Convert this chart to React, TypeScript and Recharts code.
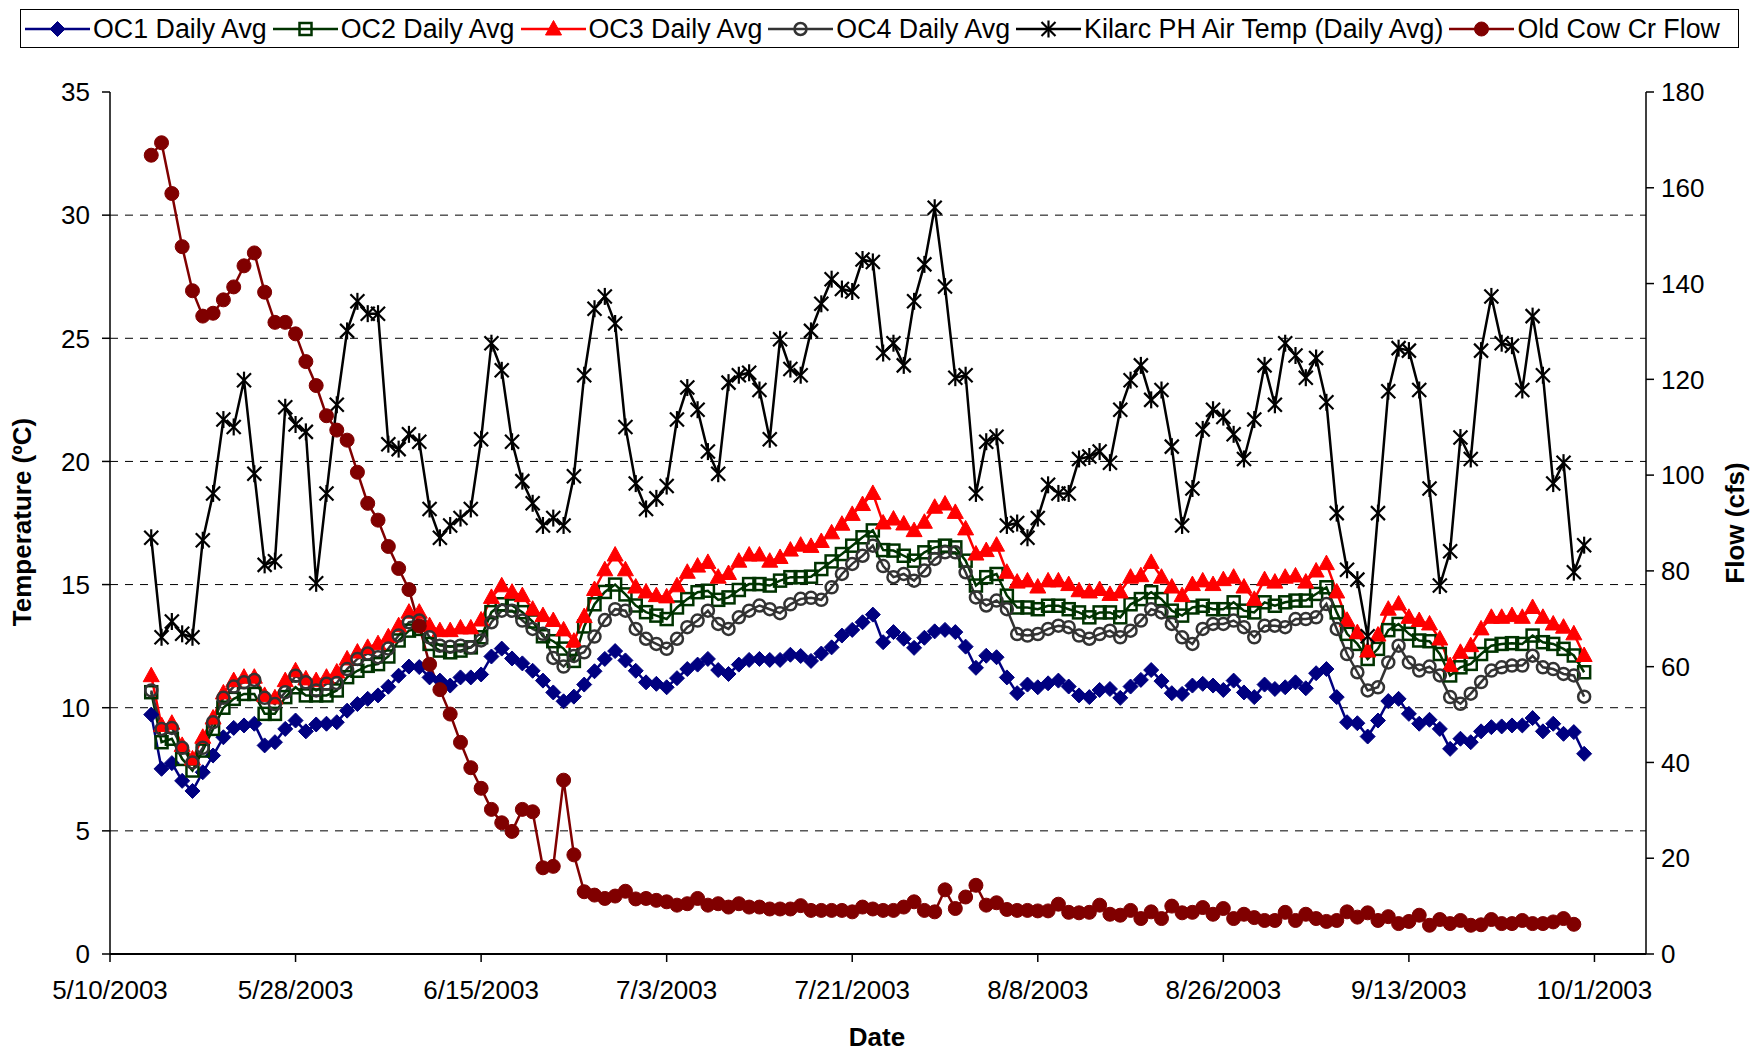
import React from 'react';
import { LineChart, Line, XAxis, YAxis, ReferenceLine } from 'recharts';

const FONT = '"Liberation Sans", Arial, Helvetica, sans-serif';
const START_MS = Date.UTC(2003, 4, 10); // 5/10/2003 = day 0 of the axis
const FIRST_DAY = 4; // first observation 5/14/2003

const xTicks = [0, 18, 36, 54, 72, 90, 108, 126, 144];
const tempTicks = [0, 5, 10, 15, 20, 25, 30, 35];
const flowTicks = [0, 20, 40, 60, 80, 100, 120, 140, 160, 180];
const gridValues = [5, 10, 15, 20, 25, 30];

const oc1 = [
  9.72, 7.52, 7.75, 7.03, 6.62, 7.38, 8.06, 8.8, 9.18, 9.28, 9.35, 8.47, 8.6, 9.14, 9.48, 9.04, 9.32, 9.35, 9.41, 9.88, 10.15, 10.36, 10.5, 10.85,
  11.3, 11.67, 11.65, 11.23, 11.1, 10.9, 11.23, 11.23, 11.35, 12.08, 12.4, 12.0, 11.8, 11.5, 11.1, 10.62, 10.26, 10.45, 10.94, 11.48, 11.98, 12.3, 11.92, 11.5,
  11.03, 10.97, 10.83, 11.2, 11.57, 11.75, 11.98, 11.53, 11.37, 11.75, 11.94, 11.98, 11.94, 11.94, 12.15, 12.1, 11.9, 12.2, 12.45, 12.93, 13.16, 13.47, 13.78, 12.66,
  13.07, 12.8, 12.43, 12.84, 13.1, 13.16, 13.07, 12.48, 11.62, 12.11, 12.05, 11.23, 10.59, 10.94, 10.83, 10.99, 11.1, 10.86, 10.5, 10.43, 10.72, 10.76, 10.4, 10.86,
  11.13, 11.53, 11.08, 10.59, 10.56, 10.9, 10.97, 10.9, 10.72, 11.1, 10.62, 10.43, 10.94, 10.76, 10.83, 11.03, 10.79, 11.4, 11.57, 10.43, 9.41, 9.37, 8.83, 9.48,
  10.27, 10.36, 9.75, 9.35, 9.51, 9.14, 8.33, 8.74, 8.6, 9.04, 9.21, 9.24, 9.28, 9.28, 9.58, 9.04, 9.35, 8.94, 9.01, 8.13,
];

const oc2 = [
  10.63, 8.6, 8.74, 7.92, 7.45, 8.26, 9.14, 10.0, 10.36, 10.56, 10.56, 9.75, 9.75, 10.43, 10.83, 10.5, 10.5, 10.5, 10.7, 11.24, 11.5, 11.7, 11.77, 12.08,
  12.73, 13.13, 13.2, 12.59, 12.32, 12.25, 12.32, 12.45, 12.86, 13.88, 14.2, 14.15, 13.88, 13.5, 12.9, 12.7, 12.4, 11.9, 13.3, 14.2, 14.7, 15.0, 14.6, 14.15,
  13.88, 13.74, 13.6, 14.07, 14.41, 14.69, 14.75, 14.38, 14.48, 14.78, 15.02, 15.02, 14.96, 15.16, 15.3, 15.3, 15.32, 15.63, 15.94, 16.24, 16.58, 16.92, 17.2, 16.4,
  16.38, 16.17, 15.97, 16.31, 16.51, 16.58, 16.51, 15.97, 14.96, 15.3, 15.43, 14.55, 14.07, 14.07, 14.0, 14.14, 14.14, 14.0, 13.87, 13.67, 13.87, 13.87, 13.67, 14.2,
  14.41, 14.69, 14.41, 13.94, 13.74, 14.07, 14.14, 14.0, 14.0, 14.28, 13.94, 13.87, 14.28, 14.14, 14.28, 14.35, 14.35, 14.62, 14.89, 13.87, 13.0, 12.59, 11.98, 12.39,
  13.15, 13.4, 13.0, 12.73, 12.7, 12.18, 11.31, 11.64, 11.78, 12.18, 12.52, 12.59, 12.62, 12.59, 12.93, 12.66, 12.59, 12.39, 12.12, 11.44,
];

const oc3 = [
  11.3, 9.28, 9.37, 8.47, 7.92, 8.8, 9.58, 10.6, 11.1, 11.24, 11.24, 10.5, 10.4, 11.1, 11.5, 11.17, 11.1, 11.24, 11.45, 11.98, 12.26, 12.45, 12.6, 12.88,
  13.33, 13.88, 13.88, 13.33, 13.13, 13.13, 13.24, 13.24, 13.56, 14.48, 14.95, 14.69, 14.55, 14.0, 13.74, 13.54, 13.16, 12.7, 13.7, 14.8, 15.6, 16.2, 15.6, 14.9,
  14.7, 14.55, 14.5, 14.95, 15.5, 15.75, 15.9, 15.3, 15.45, 15.95, 16.2, 16.2, 15.95, 16.1, 16.4, 16.6, 16.55, 16.75, 17.1, 17.45, 17.85, 18.25, 18.7, 17.5,
  17.66, 17.46, 17.19, 17.53, 18.14, 18.27, 17.93, 17.26, 16.24, 16.38, 16.6, 15.5, 15.1, 15.15, 14.9, 15.15, 15.15, 15.0, 14.75, 14.7, 14.8, 14.6, 14.7, 15.3,
  15.36, 15.9, 15.3, 14.9, 14.55, 15.0, 15.15, 15.0, 15.2, 15.3, 14.9, 14.4, 15.2, 15.1, 15.3, 15.35, 15.1, 15.55, 15.85, 14.7, 13.55, 13.05, 12.3, 12.95,
  14.0, 14.21, 13.67, 13.54, 13.4, 12.79, 11.71, 12.25, 12.52, 13.2, 13.67, 13.67, 13.74, 13.67, 14.07, 13.67, 13.4, 13.27, 13.0, 12.12,
];

const oc4 = [
  10.7, 9.14, 9.18, 8.37, 7.78, 8.37, 9.41, 10.4, 10.86, 11.03, 11.13, 10.4, 10.15, 10.63, 11.3, 11.03, 10.7, 10.97, 11.0, 11.57, 11.98, 12.2, 12.05, 12.4,
  12.93, 13.47, 13.54, 12.86, 12.52, 12.48, 12.52, 12.45, 12.73, 13.47, 13.94, 13.94, 13.54, 13.2, 13.0, 12.02, 11.67, 12.1, 12.25, 12.89, 13.56, 14.0, 13.94, 13.2,
  12.8, 12.59, 12.39, 12.8, 13.27, 13.54, 13.94, 13.4, 13.2, 13.67, 13.94, 14.15, 14.0, 13.84, 14.2, 14.42, 14.46, 14.38, 14.89, 15.43, 15.84, 16.17, 16.58, 15.75,
  15.3, 15.43, 15.16, 15.57, 16.04, 16.31, 16.31, 15.5, 14.48, 14.15, 14.35, 14.0, 12.99, 12.93, 12.99, 13.2, 13.33, 13.27, 12.93, 12.8, 12.99, 13.13, 12.86, 13.13,
  13.54, 14.0, 13.87, 13.4, 12.86, 12.59, 13.2, 13.4, 13.4, 13.54, 13.27, 12.86, 13.33, 13.33, 13.27, 13.6, 13.6, 13.67, 14.21, 13.2, 12.18, 11.44, 10.7, 10.83,
  11.84, 12.52, 11.84, 11.51, 11.67, 11.31, 10.43, 10.16, 10.57, 11.04, 11.51, 11.64, 11.71, 11.71, 12.11, 11.64, 11.57, 11.37, 11.31, 10.45,
];

const airTemp = [
  16.9, 12.86, 13.5, 13.0, 12.86, 16.8, 18.7, 21.7, 21.4, 23.3, 19.5, 15.8, 15.95, 22.2, 21.5, 21.2, 15.05, 18.7, 22.3, 25.3, 26.5, 26.0, 26.0, 20.7,
  20.5, 21.1, 20.8, 18.07, 16.9, 17.4, 17.7, 18.07, 20.9, 24.8, 23.7, 20.8, 19.2, 18.3, 17.4, 17.7, 17.4, 19.4, 23.5, 26.2, 26.7, 25.6, 21.4, 19.1,
  18.07, 18.5, 19.0, 21.7, 23.0, 22.1, 20.4, 19.5, 23.2, 23.5, 23.6, 22.9, 20.9, 24.96, 23.75, 23.5, 25.3, 26.4, 27.4, 27.0, 26.9, 28.2, 28.1, 24.4,
  24.8, 23.9, 26.5, 28.0, 30.3, 27.1, 23.4, 23.5, 18.7, 20.8, 21.0, 17.4, 17.5, 16.9, 17.7, 19.05, 18.7, 18.7, 20.1, 20.2, 20.4, 19.95, 22.1, 23.3,
  23.9, 22.5, 22.9, 20.6, 17.4, 18.9, 21.3, 22.1, 21.8, 21.1, 20.1, 21.7, 23.9, 22.3, 24.8, 24.3, 23.4, 24.2, 22.4, 17.9, 15.6, 15.2, 12.9, 17.9,
  22.85, 24.6, 24.5, 22.9, 18.9, 14.96, 16.35, 20.97, 20.1, 24.5, 26.7, 24.8, 24.7, 22.9, 25.9, 23.5, 19.1, 19.95, 15.5, 16.6,
];

const flow: (number | null)[] = [
  166.8, 169.4, 158.8, 147.7, 138.5, 133.2, 133.8, 136.6, 139.3, 143.7, 146.4, 138.2, 131.9, 131.9, 129.5, 123.7, 118.7, 112.4, 109.4, 107.3, 100.6, 94.1, 90.6, 85.1,
  80.5, 76.1, 68.5, 60.5, 55.2, 50.1, 44.2, 38.9, 34.6, 30.2, 27.4, 25.6, 30.2, 29.7, 18.0, 18.3, 36.3, 20.7, 13.0, 12.3, 11.6, 12.1, 13.1, 11.5,
  11.6, 11.2, 10.9, 10.2, 10.5, 11.6, 10.2, 10.5, 9.8, 10.5, 9.8, 9.8, 9.4, 9.4, 9.4, 10.1, 9.1, 9.1, 9.1, 9.1, 8.8, 9.8, 9.4, 9.1,
  9.1, 9.8, 10.9, 9.1, 8.8, 13.4, 9.5, 11.9, 14.35, 10.2, 10.7, 9.3, 9.1, 9.1, 9.0, 9.0, 10.4, 8.7, 8.6, 8.7, 10.2, 8.3, 8.1, 9.1,
  7.4, 8.8, 7.4, 10.0, 8.6, 8.7, 9.7, 8.3, 9.5, 7.4, 8.3, 7.6, 7.0, 7.0, 8.7, 7.0, 8.3, 7.4, 6.8, 7.0, 8.8, 7.7, 8.6, 7.0,
  7.8, 6.35, 6.8, 8.1, 6.0, 7.2, 6.35, 7.0, 6.0, 6.1, 7.2, 6.35, 6.35, 7.0, 6.35, 6.35, 6.7, 7.4, 6.2, null,
];

const data = oc1.map((v, i) => ({
  day: FIRST_DAY + i,
  oc1: v,
  oc2: oc2[i],
  oc3: oc3[i],
  oc4: oc4[i],
  air: airTemp[i],
  flow: flow[i],
}));

const fmtDate = (d: number) => {
  const dt = new Date(START_MS + d * 86400000);
  return `${dt.getUTCMonth() + 1}/${dt.getUTCDate()}/${dt.getUTCFullYear()}`;
};

type MP = { cx: number; cy: number };

const Diamond = ({ cx, cy }: MP) => (
  <polygon
    points={`${cx},${cy - 7.5} ${cx + 7.5},${cy} ${cx},${cy + 7.5} ${cx - 7.5},${cy}`}
    fill="#000080"
    stroke="#000080"
    strokeWidth={1}
  />
);
const Square = ({ cx, cy }: MP) => (
  <rect x={cx - 6} y={cy - 6} width={12} height={12} fill="none" stroke="#003300" strokeWidth={2.5} />
);
const Triangle = ({ cx, cy }: MP) => (
  <polygon
    points={`${cx},${cy - 8.5} ${cx + 8},${cy + 6} ${cx - 8},${cy + 6}`}
    fill="#FF0000"
    stroke="#FF0000"
    strokeWidth={1}
  />
);
const Ring = ({ cx, cy }: MP) => (
  <circle cx={cx} cy={cy} r={6} fill="none" stroke="#333333" strokeWidth={2.5} />
);
const Star = ({ cx, cy }: MP) => (
  <g stroke="#000000" strokeWidth={2.2}>
    <line x1={cx - 7} y1={cy - 7} x2={cx + 7} y2={cy + 7} />
    <line x1={cx - 7} y1={cy + 7} x2={cx + 7} y2={cy - 7} />
    <line x1={cx} y1={cy - 8.5} x2={cx} y2={cy + 8.5} />
  </g>
);
const Dot = ({ cx, cy }: MP) => <circle cx={cx} cy={cy} r={7} fill="#800000" stroke="#800000" strokeWidth={1} />;

const SERIES = [
  { key: 'oc1', name: 'OC1 Daily Avg', color: '#000080', axis: 't', Marker: Diamond },
  { key: 'oc2', name: 'OC2 Daily Avg', color: '#003300', axis: 't', Marker: Square },
  { key: 'oc3', name: 'OC3 Daily Avg', color: '#FF0000', axis: 't', Marker: Triangle },
  { key: 'oc4', name: 'OC4 Daily Avg', color: '#333333', axis: 't', Marker: Ring },
  { key: 'air', name: 'Kilarc PH Air Temp (Daily Avg)', color: '#000000', axis: 't', Marker: Star },
  { key: 'flow', name: 'Old Cow Cr Flow', color: '#800000', axis: 'f', Marker: Dot },
];

const makeDot = (Marker: (p: MP) => React.ReactElement) => (p: any) => {
  const ok = p && Number.isFinite(p.cx) && Number.isFinite(p.cy) && p.value != null;
  if (!ok) return <g key={`e-${p?.index}`} />;
  return (
    <g key={`m-${p.index}`}>
      <Marker cx={p.cx} cy={p.cy} />
    </g>
  );
};

const tickStyle = { fontSize: 26, fill: '#000', fontFamily: FONT };

const LegendBox = () => (
  <div
    style={{
      position: 'absolute',
      left: 20,
      top: 9,
      width: 1719,
      height: 39,
      border: '1px solid #000',
      display: 'flex',
      alignItems: 'center',
      boxSizing: 'border-box',
      paddingLeft: 4,
      fontFamily: FONT,
      fontSize: 26.8,
      background: '#fff',
      overflow: 'hidden',
    }}
  >
    {SERIES.map((s) => (
      <div key={s.key} style={{ display: 'flex', alignItems: 'center', marginRight: 6 }}>
        <svg width={65} height={24} style={{ display: 'block' }}>
          <line x1={0} y1={12} x2={65} y2={12} stroke={s.color} strokeWidth={2.5} />
          <s.Marker cx={32.5} cy={12} />
        </svg>
        <span style={{ marginLeft: 3, whiteSpace: 'nowrap', lineHeight: '30px' }}>{s.name}</span>
      </div>
    ))}
  </div>
);

const titleStyle: React.CSSProperties = {
  position: 'absolute',
  fontFamily: FONT,
  fontSize: 26,
  fontWeight: 'bold',
  whiteSpace: 'nowrap',
  color: '#000',
};

export default function App() {
  return (
    <div style={{ position: 'absolute', left: 0, top: 0, width: 1752, height: 1048, background: '#fff' }}>
      <LineChart width={1752} height={1048} data={data} margin={{ top: 92, right: 0, left: 0, bottom: 0 }}>
        <XAxis
          dataKey="day"
          type="number"
          domain={[0, 149]}
          ticks={xTicks}
          interval={0}
          tickFormatter={fmtDate}
          height={94}
          tickSize={8}
          tickMargin={19}
          tick={tickStyle}
          axisLine={{ stroke: '#000', strokeWidth: 2 }}
          tickLine={{ stroke: '#000', strokeWidth: 1.5 }}
          allowDataOverflow
        />
        <YAxis
          yAxisId="t"
          domain={[0, 35]}
          ticks={tempTicks}
          interval={0}
          width={110}
          tickSize={8}
          tickMargin={12}
          tick={tickStyle}
          axisLine={{ stroke: '#000', strokeWidth: 1.5 }}
          tickLine={{ stroke: '#000', strokeWidth: 1.5 }}
        />
        <YAxis
          yAxisId="f"
          orientation="right"
          domain={[0, 180]}
          ticks={flowTicks}
          interval={0}
          width={106}
          tickSize={8}
          tickMargin={7}
          tick={tickStyle}
          axisLine={{ stroke: '#000', strokeWidth: 1.5 }}
          tickLine={{ stroke: '#000', strokeWidth: 1.5 }}
        />
        {gridValues.map((g) => (
          <ReferenceLine key={g} yAxisId="t" y={g} stroke="#000" strokeWidth={1} strokeDasharray="8 7" ifOverflow="hidden" />
        ))}
        {SERIES.map((s) => (
          <Line
            key={s.key}
            yAxisId={s.axis}
            dataKey={s.key}
            name={s.name}
            type="linear"
            stroke={s.color}
            strokeWidth={2.5}
            dot={makeDot(s.Marker)}
            activeDot={false}
            isAnimationActive={false}
            connectNulls={false}
          />
        ))}
      </LineChart>
      <LegendBox />
      <div style={{ ...titleStyle, left: 22, top: 522, transform: 'translate(-50%, -50%) rotate(-90deg)' }}>
        Temperature (ºC)
      </div>
      <div style={{ ...titleStyle, left: 1735, top: 523, transform: 'translate(-50%, -50%) rotate(-90deg)' }}>
        Flow (cfs)
      </div>
      <div style={{ ...titleStyle, left: 877, top: 1037, transform: 'translate(-50%, -50%)' }}>Date</div>
    </div>
  );
}
